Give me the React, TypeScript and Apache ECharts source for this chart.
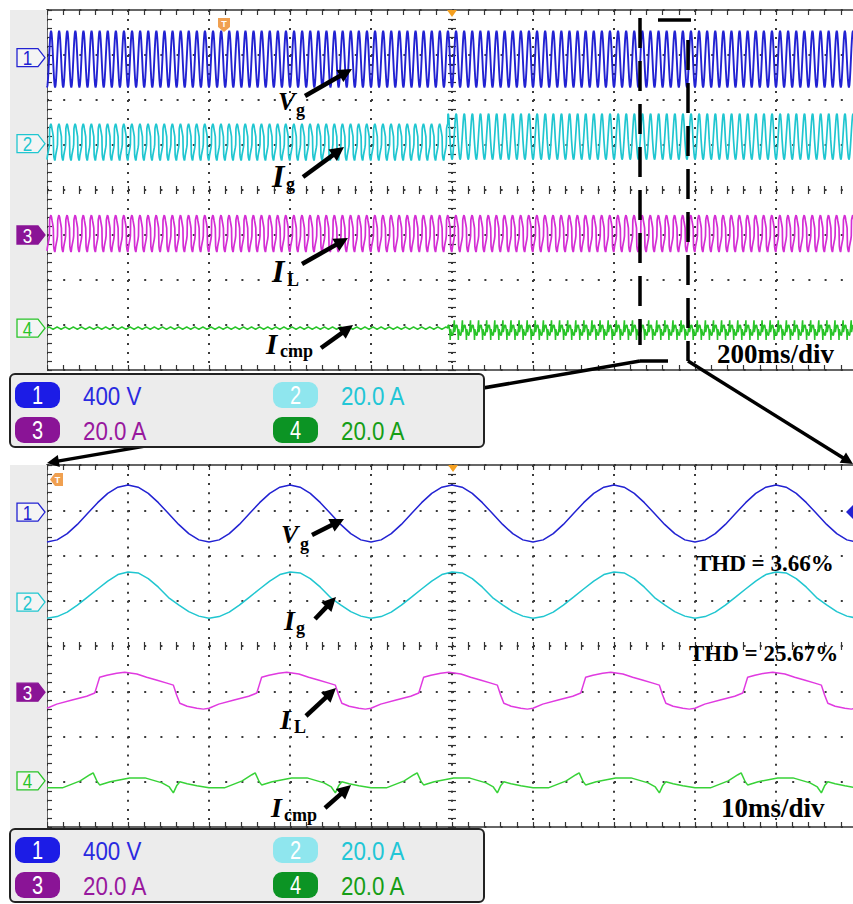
import React, { useEffect, useRef } from 'react';
import * as echarts from 'echarts';

// ---------- data ----------
const PERIOD_MS = 20; // one mains period
// one period, phase 0 at the Vg trough (ms)
const vgTimes = [0, 1.25, 2.5, 3.75, 5, 6.25, 7.5, 8.75, 10, 11.25, 12.5, 13.75, 15, 16.25, 17.5, 18.75, 20];
const vgVolts = [-265, -246, -191, -109, -13, 83, 165, 220, 239, 220, 165, 83, -13, -109, -191, -246, -265];
const igAmps = [-7.1, -6.4, -4.4, -1.3, 2.2, 5.8, 9.3, 12.2, 13.3, 12.9, 10.4, 6.6, 2.0, -1.2, -4.2, -6.2, -7.1];
const ilTimes = [0, 1.2, 3.1, 4.9, 5.9, 6.2, 6.5, 7.4, 8.6, 9.6, 11.1, 12.3, 13.6, 14.8, 15.6, 16.0, 16.4, 17.3, 18.5, 19.3, 20];
const ilAmps = [-7.1, -5.3, -3.5, -1.8, -0.4, 3.1, 6.6, 7.5, 8.4, 8.8, 8.0, 6.6, 5.3, 4.0, 3.1, -1.3, -4.9, -6.2, -7.1, -7.5, -7.1];
const icmpTimes = [0, 1.9, 4.1, 5.3, 5.7, 6.2, 6.5, 7.8, 10.2, 12.1, 14.2, 15.1, 15.6, 16.0, 16.4, 17.3, 18.5, 20];
const icmpAmps = [-3.1, -3.1, 0, 2.7, 3.5, -0.4, -1.8, -0.4, 1.3, 1.3, -0.9, -2.7, -5.3, -2.2, -0.4, -1.3, -2.2, -3.1];
const icmpOffTimes = [0, 5, 10, 15, 20];
const icmpOffAmps = [0, 0.5, 0, -0.5, 0];

const channelNames = ['1', '2', '3', '4'];
const channelScales = [400, 20, 20, 20]; // units per division
const channelScaleLabels = ['400 V', '20.0 A', '20.0 A', '20.0 A'];
const topOffsets = [2.94, 1.03, -1.0, -3.07]; // divisions
const bottomOffsets = [2.96, 0.97, -1.02, -2.98];
const topSpanMs = 2000;
const topDivMs = 200;
const bottomSpanMs = 100;
const bottomDivMs = 10;
const stepTimeMs = 990;
const timeBaseLabels = ['200ms/div', '10ms/div'];
const thdLabels = ['THD = 3.66%', 'THD = 25.67%'];

// ---------- styling ----------
const COLORS = ['#2222d2', '#20c6d0', '#d42ed4', '#28c428'];
const PILL_COLORS = ['#1c1ce6', '#8fe6ee', '#8a1496', '#0c9424'];
const LEGEND_TEXT = ['#2a2ae0', '#22c6d6', '#98189e', '#169e16'];
const NARROW = "'Liberation Sans', Arial, sans-serif";
const SERIF = "'Liberation Serif', 'Times New Roman', serif";

function repeatPeriod(times: number[], vals: number[], from: number, to: number, offset: number, scale: number) {
  const out: number[][] = [];
  for (let c = 0; c * PERIOD_MS <= to; c++) {
    for (let i = 0; i < times.length; i++) {
      if (c > 0 && i === 0) continue;
      const t = c * PERIOD_MS + times[i];
      if (t < from || t > to) continue;
      out.push([t, offset + vals[i] / scale]);
    }
  }
  return out;
}

const GRIDS = [
  { left: 47, top: 10, width: 810, height: 360 },
  { left: 47, top: 465, width: 810, height: 362 },
];

function axesFor(g: number, span: number, div: number) {
  const h = GRIDS[g].height;
  const w = GRIDS[g].width;
  const tick = { show: true, inside: true, length: 5, lineStyle: { color: '#333', width: 1.2 } };
  const minor = { show: true, splitNumber: 5, length: 5, lineStyle: { color: '#333', width: 1.2 } };
  const base = { type: 'value', gridIndex: g, axisLabel: { show: false }, minorSplitLine: { show: false } };
  const xMain = {
    ...base, min: 0, max: span, interval: div, position: 'bottom',
    axisLine: { show: true, onZero: false, lineStyle: { color: '#333', width: 1.5 } },
    axisTick: tick, minorTick: minor,
    splitLine: { show: true, lineStyle: { color: '#3a3a3a', width: 2, type: [2, h / 40 - 2] } },
  };
  const xTop = { ...xMain, position: 'top', splitLine: { show: false } };
  const xCenterUp = {
    ...base, min: 0, max: span, interval: div, position: 'bottom', offset: -h / 2,
    axisLine: { show: false, onZero: false }, axisTick: { ...tick, length: 4 }, minorTick: { ...minor, length: 4 },
    splitLine: { show: false },
  };
  const xCenterDown = { ...xCenterUp, axisTick: { ...tick, inside: false, length: 4 } };
  const yMain = {
    ...base, min: -4, max: 4, interval: 1, position: 'left',
    axisLine: { show: true, onZero: false, lineStyle: { color: '#333', width: 1.5 } },
    axisTick: tick, minorTick: minor,
    splitLine: { show: true, lineStyle: { color: '#3a3a3a', width: 2, type: [2, w / 50 - 2] } },
  };
  const yCenterR = {
    ...base, min: -4, max: 4, interval: 1, position: 'left', offset: -w / 2,
    axisLine: { show: false, onZero: false }, axisTick: { ...tick, length: 4 }, minorTick: { ...minor, length: 4 },
    splitLine: { show: false },
  };
  const yCenterL = { ...yCenterR, axisTick: { ...tick, inside: false, length: 4 } };
  return { x: [xMain, xTop, xCenterUp, xCenterDown], y: [yMain, yCenterR, yCenterL] };
}

function arrow(x1: number, y1: number, x2: number, y2: number, w = 4.5, head = 14, half = 7) {
  const dx = x2 - x1, dy = y2 - y1;
  const len = Math.hypot(dx, dy);
  const ux = dx / len, uy = dy / len;
  const bx = x2 - ux * head, by = y2 - uy * head;
  return [
    { type: 'line', z: 20, shape: { x1, y1, x2: bx + ux, y2: by + uy }, style: { stroke: '#000', lineWidth: w } },
    {
      type: 'polygon', z: 20,
      shape: { points: [[x2, y2], [bx - uy * half, by + ux * half], [bx + uy * half, by - ux * half]] },
      style: { fill: '#000' },
    },
  ];
}

function txt(text: string, x: number, y: number, size: number, opts: any = {}) {
  return {
    type: 'text', z: opts.z || 21, x, y, scaleX: opts.scaleX || 1,
    style: {
      text, fill: opts.fill || '#000', fontSize: size, fontFamily: opts.family || SERIF,
      fontWeight: opts.weight || 'bold', fontStyle: opts.style || 'normal',
      align: opts.align || 'left', textAlign: opts.align || 'left',
      verticalAlign: 'middle', textVerticalAlign: 'middle',
    },
  };
}

function label(main: string, sub: string, x: number, y: number, sx: number, sy: number, size: number) {
  return [txt(main, x, y, size, { style: 'italic' }), txt(sub, sx, sy, 18)];
}

function legendBox(top: number) {
  const els: any[] = [
    { type: 'rect', z: 15, shape: { x: 10, y: top, width: 474, height: 73, r: 5 }, style: { fill: '#ececec', stroke: '#222', lineWidth: 2 } },
  ];
  const pos = [[15, top + 8], [273, top + 8], [15, top + 43], [273, top + 43]];
  for (let i = 0; i < 4; i++) {
    const [px, py] = pos[i];
    els.push({ type: 'rect', z: 16, shape: { x: px, y: py, width: 45, height: 26, r: 9 }, style: { fill: PILL_COLORS[i] } });
    els.push(txt(channelNames[i], px + 22.5, py + 13.5, 25, { fill: '#fff', family: NARROW, weight: 'normal', align: 'center', scaleX: 0.8, z: 17 }));
    els.push(txt(channelScaleLabels[i], px + 68, py + 13.5, 26, { fill: LEGEND_TEXT[i], family: NARROW, weight: 'normal', scaleX: 0.86, z: 17 }));
  }
  return els;
}

function channelMarker(i: number, y: number) {
  const filled = i === 2;
  return [
    {
      type: 'polygon', z: 12,
      shape: { points: [[17, y - 9], [38, y - 9], [45, y], [38, y + 9], [17, y + 9]] },
      style: { fill: filled ? '#8a1496' : '#f4f4f4', stroke: filled ? '#8a1496' : COLORS[i], lineWidth: 1.3 },
    },
    txt(channelNames[i], 27.5, y + 0.5, 20, { fill: filled ? '#fff' : COLORS[i], family: NARROW, weight: 'normal', align: 'center', scaleX: 0.85, z: 13 }),
  ];
}

function buildOption() {
  const top = axesFor(0, topSpanMs, topDivMs);
  const bot = axesFor(1, bottomSpanMs, bottomDivMs);
  const xAxis = [...top.x, ...bot.x];
  const yAxis = [...top.y, ...bot.y];
  const TX = 0, TY = 0, BX = top.x.length, BY = top.y.length;

  const ser = (data: number[][], color: string, xi: number, yi: number, width: number) => ({
    type: 'line', data, xAxisIndex: xi, yAxisIndex: yi, showSymbol: false, symbol: 'none',
    lineStyle: { color, width }, silent: true, z: 5,
  });

  const o = topOffsets, b = bottomOffsets, s = channelScales;
  const series = [
    ser(repeatPeriod(vgTimes, vgVolts, 0, topSpanMs, o[0], s[0]), COLORS[0], TX, TY, 1.9),
    ser([
      ...repeatPeriod(ilTimes, ilAmps, 0, stepTimeMs, o[1], s[1]),
      ...repeatPeriod(vgTimes, igAmps, stepTimeMs, topSpanMs, o[1], s[1]),
    ], COLORS[1], TX, TY, 1.7),
    ser(repeatPeriod(ilTimes, ilAmps, 0, topSpanMs, o[2], s[2]), COLORS[2], TX, TY, 1.7),
    ser([
      ...repeatPeriod(icmpOffTimes, icmpOffAmps, 0, stepTimeMs, o[3], s[3]),
      ...repeatPeriod(icmpTimes, icmpAmps, stepTimeMs, topSpanMs, o[3], s[3]),
    ], COLORS[3], TX, TY, 1.6),
    ser(repeatPeriod(vgTimes, vgVolts, 0, bottomSpanMs, b[0], s[0]), COLORS[0], BX, BY, 1.5),
    ser(repeatPeriod(vgTimes, igAmps, 0, bottomSpanMs, b[1], s[1]), COLORS[1], BX, BY, 1.5),
    ser(repeatPeriod(ilTimes, ilAmps, 0, bottomSpanMs, b[2], s[2]), '#e03ae0', BX, BY, 1.5),
    ser(repeatPeriod(icmpTimes, icmpAmps, 0, bottomSpanMs, b[3], s[3]), '#38d238', BX, BY, 1.5),
  ];

  return {
    animation: false,
    backgroundColor: '#fff',
    grid: GRIDS.map((g) => ({ ...g, containLabel: false, outerBoundsMode: 'none', show: false })),
    xAxis, yAxis, series,
  };
}

function buildGraphic(chart: any) {
  const els: any[] = [];
  // gray strips at the left of each screen
  els.push({ type: 'rect', z: 1, shape: { x: 10, y: 10, width: 37, height: 364 }, style: { fill: '#ececec' } });
  els.push({ type: 'rect', z: 1, shape: { x: 10, y: 465, width: 37, height: 364 }, style: { fill: '#ececec' } });

  // channel markers placed through the chart's own scale
  for (let i = 0; i < 4; i++) {
    const yt = chart.convertToPixel({ gridIndex: 0 }, [0, topOffsets[i]])[1];
    const yb = chart.convertToPixel({ gridIndex: 1 }, [0, bottomOffsets[i]])[1];
    els.push(...channelMarker(i, yt), ...channelMarker(i, yb));
  }

  // trigger markers
  const orange = '#f0a050';
  els.push({ type: 'polygon', z: 12, shape: { points: [[218, 18], [230, 18], [230, 27], [224, 32], [218, 27]] }, style: { fill: orange } });
  els.push(txt('T', 224, 23.5, 9, { fill: '#fff', family: NARROW, align: 'center', z: 13 }));
  els.push({ type: 'polygon', z: 12, shape: { points: [[447, 10], [457, 10], [452, 17]] }, style: { fill: '#f5a020' } });
  els.push({ type: 'polygon', z: 12, shape: { points: [[448, 465], [458, 465], [453, 472]] }, style: { fill: '#f5a020' } });
  els.push({ type: 'polygon', z: 12, shape: { points: [[63, 473], [63, 486], [55, 486], [50, 479.5], [55, 473]] }, style: { fill: orange } });
  els.push(txt('T', 57.5, 480, 9, { fill: '#fff', family: NARROW, align: 'center', z: 13 }));
  els.push({ type: 'polygon', z: 12, shape: { points: [[846, 512], [853, 505], [860, 512], [853, 519]] }, style: { fill: COLORS[0] } });

  // zoom box and connectors
  const blk = { stroke: '#000', lineWidth: 3.5 };
  els.push({ type: 'line', z: 14, shape: { x1: 640, y1: 18, x2: 640, y2: 345 }, style: { ...blk, lineDash: [30, 13] } });
  els.push({ type: 'line', z: 14, shape: { x1: 658, y1: 20, x2: 691, y2: 20 }, style: blk });
  els.push({ type: 'line', z: 14, shape: { x1: 688, y1: 40, x2: 688, y2: 361 }, style: { ...blk, lineDash: [30, 13] } });
  els.push({ type: 'line', z: 14, shape: { x1: 640, y1: 361, x2: 668, y2: 361 }, style: blk });
  els.push(...arrow(640, 361, 47, 463, 3.5, 12, 6).map((e) => ({ ...e, z: 13 })));
  els.push(...arrow(688, 361, 853, 464, 3.5, 12, 6).map((e) => ({ ...e, z: 13 })));

  // legends
  els.push(...legendBox(374), ...legendBox(829));

  // annotations — top screen
  els.push(...label('V', 'g', 278, 101, 296, 110, 26), ...arrow(305, 96, 352, 69));
  els.push(...label('I', 'g', 272, 176, 286, 184, 32), ...arrow(303, 177, 344, 147));
  els.push(...label('I', 'L', 272, 271, 287, 280, 32), ...arrow(302, 264, 348, 238));
  els.push(...label('I', 'cmp', 266, 344, 280, 351, 29), ...arrow(321, 348, 353, 325));
  els.push(txt(timeBaseLabels[0], 717, 354, 27));
  // annotations — bottom screen
  els.push(...label('V', 'g', 281, 534, 300, 544, 26), ...arrow(312, 535, 344, 519));
  els.push(...label('I', 'g', 284, 620, 296, 628, 28), ...arrow(315, 619, 336, 597));
  els.push(...label('I', 'L', 280, 719, 294, 727, 28), ...arrow(306, 716, 336, 688));
  els.push(...label('I', 'cmp', 271, 807, 284, 815, 28), ...arrow(325, 808, 351, 785));
  els.push(txt(timeBaseLabels[1], 721, 808, 27));
  els.push(txt(thdLabels[0], 696, 563, 23));
  els.push(txt(thdLabels[1], 689, 653, 23));
  return els;
}

export default function App() {
  const ref = useRef<HTMLDivElement>(null);
  useEffect(() => {
    if (!ref.current) return;
    const chart = echarts.init(ref.current, null, { renderer: 'svg' });
    chart.setOption(buildOption() as any);
    chart.setOption({ graphic: { elements: buildGraphic(chart) } } as any);
    return () => chart.dispose();
  }, []);
  return (
    <div
      ref={ref}
      style={{ position: 'absolute', left: 0, top: 0, width: 853, height: 904, background: '#fff' }}
    />
  );
}
